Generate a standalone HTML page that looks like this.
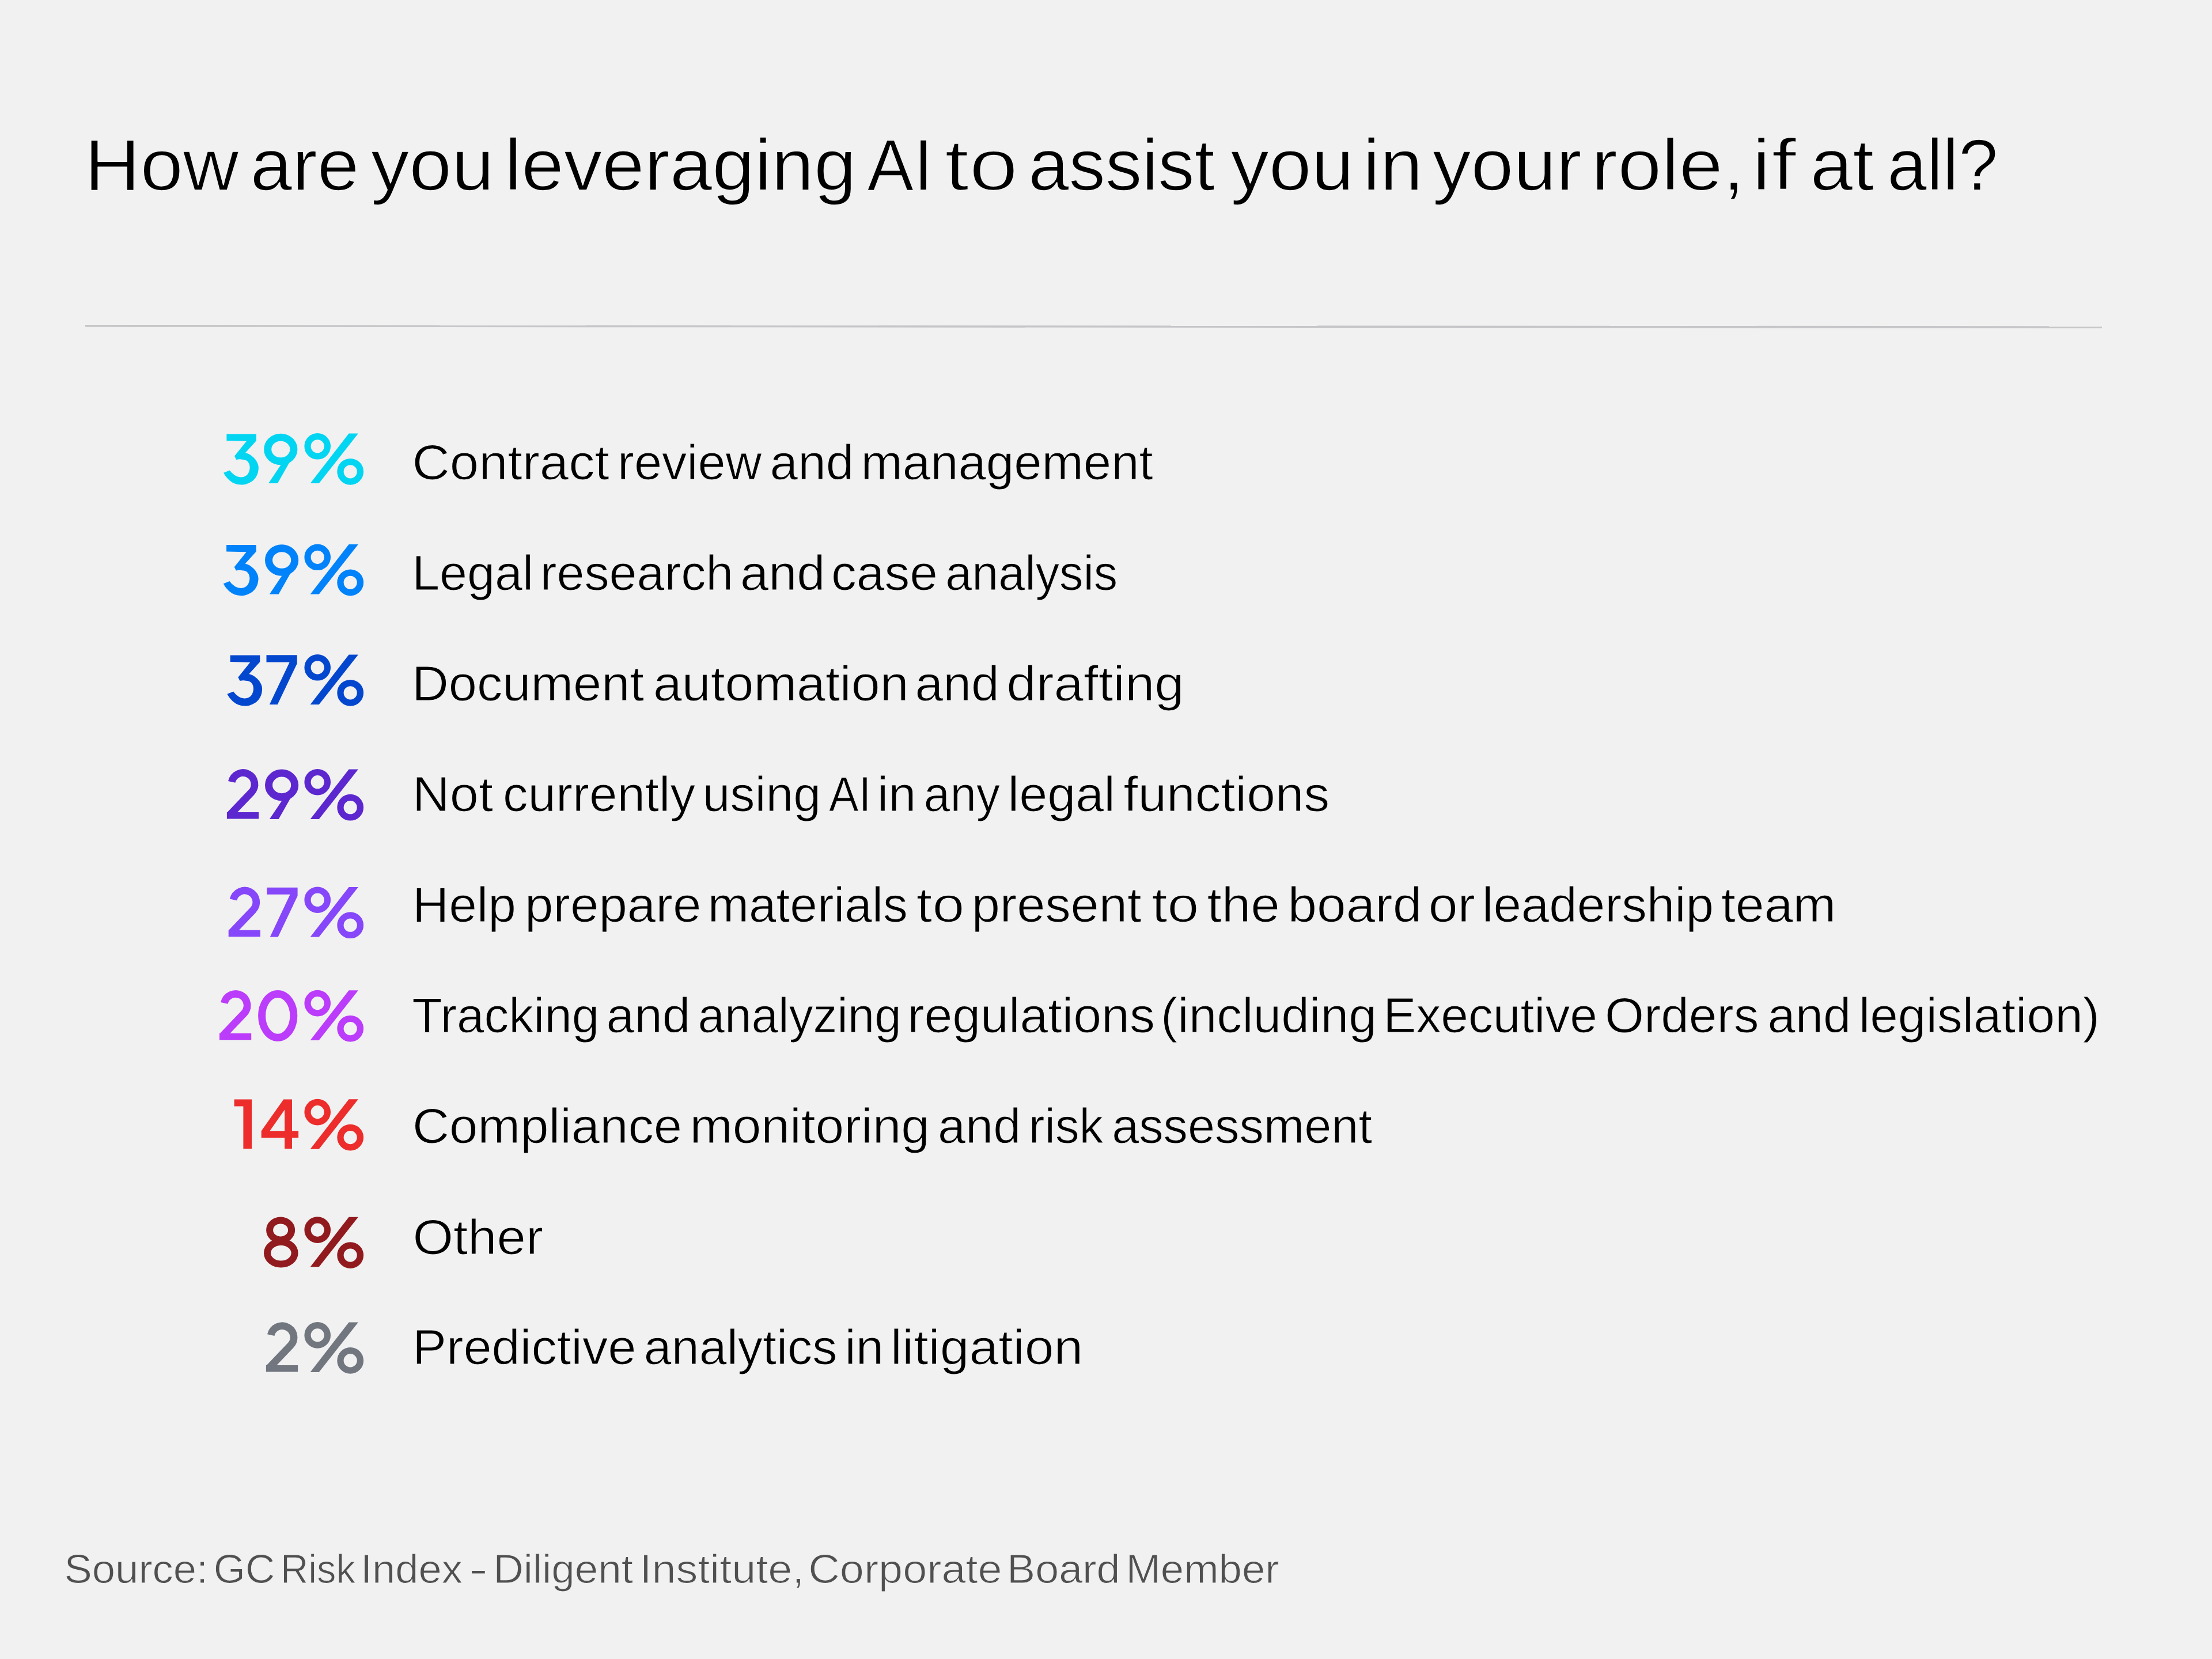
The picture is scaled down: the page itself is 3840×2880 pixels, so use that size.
<!DOCTYPE html>
<html><head><meta charset="utf-8">
<style>
html,body{margin:0;padding:0;background:#f1f1f1;}
body{width:3840px;height:2880px;overflow:hidden;position:relative;}
svg{position:absolute;left:0;top:0;display:block;}
text{font-family:"Liberation Sans",sans-serif;white-space:pre;}
</style></head><body>
<svg width="3840" height="2880" viewBox="0 0 3840 2880">
<rect width="3840" height="2880" fill="#f1f1f1"/>

<line x1="148" y1="565.8" x2="3649" y2="568" stroke="#c6c6c9" stroke-width="3.6"/>
<text x="146.76" y="330.00" font-size="131" fill="#000000" transform="matrix(1,0,0,0.97,0,9.900)" textLength="267.72" lengthAdjust="spacingAndGlyphs" stroke="#f1f1f1" stroke-width="1.72" stroke-linejoin="round">How</text>
<text x="434.62" y="330.00" font-size="131" fill="#000000" transform="matrix(1,0,0,0.97,0,9.900)" textLength="188.70" lengthAdjust="spacingAndGlyphs" stroke="#f1f1f1" stroke-width="1.6" stroke-linejoin="round">are</text>
<text x="643.99" y="330.00" font-size="131" fill="#000000" transform="matrix(1,0,0,0.97,0,9.900)" textLength="213.74" lengthAdjust="spacingAndGlyphs" stroke="#f1f1f1" stroke-width="1.67" stroke-linejoin="round">you</text>
<text x="875.91" y="330.00" font-size="131" fill="#000000" transform="matrix(1,0,0,0.97,0,9.900)" textLength="610.66" lengthAdjust="spacingAndGlyphs" stroke="#f1f1f1" stroke-width="1.66" stroke-linejoin="round">leveraging</text>
<text x="1505.58" y="330.00" font-size="131" fill="#000000" transform="matrix(1,0,0,0.97,0,9.900)" textLength="114.22" lengthAdjust="spacingAndGlyphs" stroke="#f1f1f1" stroke-width="1.6" stroke-linejoin="round">AI</text>
<text x="1639.66" y="330.00" font-size="131" fill="#000000" transform="matrix(1,0,0,0.97,0,9.900)" textLength="127.66" lengthAdjust="spacingAndGlyphs" stroke="#f1f1f1" stroke-width="2.58" stroke-linejoin="round">to</text>
<text x="1785.20" y="330.00" font-size="131" fill="#000000" transform="matrix(1,0,0,0.97,0,9.900)" textLength="323.59" lengthAdjust="spacingAndGlyphs" stroke="#f1f1f1" stroke-width="1.6" stroke-linejoin="round">assist</text>
<text x="2136.49" y="330.00" font-size="131" fill="#000000" transform="matrix(1,0,0,0.97,0,9.900)" textLength="213.85" lengthAdjust="spacingAndGlyphs" stroke="#f1f1f1" stroke-width="1.67" stroke-linejoin="round">you</text>
<text x="2365.79" y="330.00" font-size="131" fill="#000000" transform="matrix(1,0,0,0.97,0,9.900)" textLength="104.40" lengthAdjust="spacingAndGlyphs" stroke="#f1f1f1" stroke-width="1.74" stroke-linejoin="round">in</text>
<text x="2486.98" y="330.00" font-size="131" fill="#000000" transform="matrix(1,0,0,0.97,0,9.900)" textLength="258.91" lengthAdjust="spacingAndGlyphs" stroke="#f1f1f1" stroke-width="1.69" stroke-linejoin="round">your</text>
<text x="2762.60" y="330.00" font-size="131" fill="#000000" transform="matrix(1,0,0,0.97,0,9.900)" textLength="266.28" lengthAdjust="spacingAndGlyphs" stroke="#f1f1f1" stroke-width="1.86" stroke-linejoin="round">role,</text>
<text x="3040.23" y="330.00" font-size="131" fill="#000000" transform="matrix(1,0,0,0.97,0,9.900)" textLength="78.37" lengthAdjust="spacingAndGlyphs" stroke="#f1f1f1" stroke-width="2.74" stroke-linejoin="round">if</text>
<text x="3142.41" y="330.00" font-size="131" fill="#000000" transform="matrix(1,0,0,0.97,0,9.900)" textLength="110.87" lengthAdjust="spacingAndGlyphs" stroke="#f1f1f1" stroke-width="1.69" stroke-linejoin="round">at</text>
<text x="3276.34" y="330.00" font-size="131" fill="#000000" transform="matrix(1,0,0,0.97,0,9.900)" textLength="192.30" lengthAdjust="spacingAndGlyphs" stroke="#f1f1f1" stroke-width="1.6" stroke-linejoin="round">all?</text>
<text x="715.46" y="832.00" font-size="88" fill="#000000" transform="matrix(1,0,0,0.965,0,29.120)" textLength="342.14" lengthAdjust="spacingAndGlyphs" stroke="#f1f1f1" stroke-width="1.11" stroke-linejoin="round">Contract</text>
<text x="1072.10" y="832.00" font-size="88" fill="#000000" transform="matrix(1,0,0,0.965,0,29.120)" textLength="250.20" lengthAdjust="spacingAndGlyphs" stroke="#f1f1f1" stroke-width="1.0" stroke-linejoin="round">review</text>
<text x="1336.63" y="832.00" font-size="88" fill="#000000" transform="matrix(1,0,0,0.965,0,29.120)" textLength="145.76" lengthAdjust="spacingAndGlyphs" stroke="#f1f1f1" stroke-width="1.0" stroke-linejoin="round">and</text>
<text x="1494.48" y="832.00" font-size="88" fill="#000000" transform="matrix(1,0,0,0.965,0,29.120)" textLength="507.17" lengthAdjust="spacingAndGlyphs" stroke="#f1f1f1" stroke-width="1.0" stroke-linejoin="round">management</text>
<text x="715.14" y="1024.50" font-size="88" fill="#000000" transform="matrix(1,0,0,0.965,0,35.858)" textLength="211.06" lengthAdjust="spacingAndGlyphs" stroke="#f1f1f1" stroke-width="1.0" stroke-linejoin="round">Legal</text>
<text x="937.82" y="1024.50" font-size="88" fill="#000000" transform="matrix(1,0,0,0.965,0,35.858)" textLength="335.44" lengthAdjust="spacingAndGlyphs" stroke="#f1f1f1" stroke-width="1.0" stroke-linejoin="round">research</text>
<text x="1284.98" y="1024.50" font-size="88" fill="#000000" transform="matrix(1,0,0,0.965,0,35.858)" textLength="147.47" lengthAdjust="spacingAndGlyphs" stroke="#f1f1f1" stroke-width="1.02" stroke-linejoin="round">and</text>
<text x="1443.02" y="1024.50" font-size="88" fill="#000000" transform="matrix(1,0,0,0.965,0,35.858)" textLength="184.85" lengthAdjust="spacingAndGlyphs" stroke="#f1f1f1" stroke-width="1.0" stroke-linejoin="round">case</text>
<text x="1641.24" y="1024.50" font-size="88" fill="#000000" transform="matrix(1,0,0,0.965,0,35.858)" textLength="299.02" lengthAdjust="spacingAndGlyphs" stroke="#f1f1f1" stroke-width="1.0" stroke-linejoin="round">analysis</text>
<text x="714.96" y="1216.00" font-size="88" fill="#000000" transform="matrix(1,0,0,0.965,0,42.560)" textLength="403.12" lengthAdjust="spacingAndGlyphs" stroke="#f1f1f1" stroke-width="1.02" stroke-linejoin="round">Document</text>
<text x="1133.92" y="1216.00" font-size="88" fill="#000000" transform="matrix(1,0,0,0.965,0,42.560)" textLength="443.58" lengthAdjust="spacingAndGlyphs" stroke="#f1f1f1" stroke-width="1.07" stroke-linejoin="round">automation</text>
<text x="1588.51" y="1216.00" font-size="88" fill="#000000" transform="matrix(1,0,0,0.965,0,42.560)" textLength="146.29" lengthAdjust="spacingAndGlyphs" stroke="#f1f1f1" stroke-width="1.0" stroke-linejoin="round">and</text>
<text x="1747.19" y="1216.00" font-size="88" fill="#000000" transform="matrix(1,0,0,0.965,0,42.560)" textLength="308.67" lengthAdjust="spacingAndGlyphs" stroke="#f1f1f1" stroke-width="1.2" stroke-linejoin="round">drafting</text>
<text x="715.84" y="1408.50" font-size="88" fill="#000000" transform="matrix(1,0,0,0.965,0,49.298)" textLength="140.14" lengthAdjust="spacingAndGlyphs" stroke="#f1f1f1" stroke-width="1.09" stroke-linejoin="round">Not</text>
<text x="873.04" y="1408.50" font-size="88" fill="#000000" transform="matrix(1,0,0,0.965,0,49.298)" textLength="333.89" lengthAdjust="spacingAndGlyphs" stroke="#f1f1f1" stroke-width="1.0" stroke-linejoin="round">currently</text>
<text x="1219.85" y="1408.50" font-size="88" fill="#000000" transform="matrix(1,0,0,0.965,0,49.298)" textLength="205.06" lengthAdjust="spacingAndGlyphs" stroke="#f1f1f1" stroke-width="1.0" stroke-linejoin="round">using</text>
<text x="1439.12" y="1408.50" font-size="88" fill="#000000" transform="matrix(1,0,0,0.965,0,49.298)" textLength="73.04" lengthAdjust="spacingAndGlyphs" stroke="#f1f1f1" stroke-width="1.0" stroke-linejoin="round">AI</text>
<text x="1523.11" y="1408.50" font-size="88" fill="#000000" transform="matrix(1,0,0,0.965,0,49.298)" textLength="67.30" lengthAdjust="spacingAndGlyphs" stroke="#f1f1f1" stroke-width="1.0" stroke-linejoin="round">in</text>
<text x="1603.88" y="1408.50" font-size="88" fill="#000000" transform="matrix(1,0,0,0.965,0,49.298)" textLength="131.95" lengthAdjust="spacingAndGlyphs" stroke="#f1f1f1" stroke-width="1.0" stroke-linejoin="round">any</text>
<text x="1749.59" y="1408.50" font-size="88" fill="#000000" transform="matrix(1,0,0,0.965,0,49.298)" textLength="186.36" lengthAdjust="spacingAndGlyphs" stroke="#f1f1f1" stroke-width="1.01" stroke-linejoin="round">legal</text>
<text x="1950.58" y="1408.50" font-size="88" fill="#000000" transform="matrix(1,0,0,0.965,0,49.298)" textLength="357.68" lengthAdjust="spacingAndGlyphs" stroke="#f1f1f1" stroke-width="1.06" stroke-linejoin="round">functions</text>
<text x="716.04" y="1600.50" font-size="88" fill="#000000" transform="matrix(1,0,0,0.965,0,56.018)" textLength="179.92" lengthAdjust="spacingAndGlyphs" stroke="#f1f1f1" stroke-width="1.0" stroke-linejoin="round">Help</text>
<text x="910.94" y="1600.50" font-size="88" fill="#000000" transform="matrix(1,0,0,0.965,0,56.018)" textLength="306.43" lengthAdjust="spacingAndGlyphs" stroke="#f1f1f1" stroke-width="1.04" stroke-linejoin="round">prepare</text>
<text x="1228.77" y="1600.50" font-size="88" fill="#000000" transform="matrix(1,0,0,0.965,0,56.018)" textLength="346.93" lengthAdjust="spacingAndGlyphs" stroke="#f1f1f1" stroke-width="1.0" stroke-linejoin="round">materials</text>
<text x="1590.52" y="1600.50" font-size="88" fill="#000000" transform="matrix(1,0,0,0.965,0,56.018)" textLength="83.75" lengthAdjust="spacingAndGlyphs" stroke="#f1f1f1" stroke-width="1.55" stroke-linejoin="round">to</text>
<text x="1686.67" y="1600.50" font-size="88" fill="#000000" transform="matrix(1,0,0,0.965,0,56.018)" textLength="294.86" lengthAdjust="spacingAndGlyphs" stroke="#f1f1f1" stroke-width="1.02" stroke-linejoin="round">present</text>
<text x="1999.26" y="1600.50" font-size="88" fill="#000000" transform="matrix(1,0,0,0.965,0,56.018)" textLength="82.13" lengthAdjust="spacingAndGlyphs" stroke="#f1f1f1" stroke-width="1.46" stroke-linejoin="round">to</text>
<text x="2095.53" y="1600.50" font-size="88" fill="#000000" transform="matrix(1,0,0,0.965,0,56.018)" textLength="126.46" lengthAdjust="spacingAndGlyphs" stroke="#f1f1f1" stroke-width="1.13" stroke-linejoin="round">the</text>
<text x="2235.49" y="1600.50" font-size="88" fill="#000000" transform="matrix(1,0,0,0.965,0,56.018)" textLength="232.79" lengthAdjust="spacingAndGlyphs" stroke="#f1f1f1" stroke-width="1.13" stroke-linejoin="round">board</text>
<text x="2479.65" y="1600.50" font-size="88" fill="#000000" transform="matrix(1,0,0,0.965,0,56.018)" textLength="81.25" lengthAdjust="spacingAndGlyphs" stroke="#f1f1f1" stroke-width="1.15" stroke-linejoin="round">or</text>
<text x="2573.06" y="1600.50" font-size="88" fill="#000000" transform="matrix(1,0,0,0.965,0,56.018)" textLength="401.96" lengthAdjust="spacingAndGlyphs" stroke="#f1f1f1" stroke-width="1.0" stroke-linejoin="round">leadership</text>
<text x="2987.96" y="1600.50" font-size="88" fill="#000000" transform="matrix(1,0,0,0.965,0,56.018)" textLength="199.28" lengthAdjust="spacingAndGlyphs" stroke="#f1f1f1" stroke-width="1.07" stroke-linejoin="round">team</text>
<text x="715.35" y="1792.00" font-size="88" fill="#000000" transform="matrix(1,0,0,0.965,0,62.720)" textLength="325.05" lengthAdjust="spacingAndGlyphs" stroke="#f1f1f1" stroke-width="1.0" stroke-linejoin="round">Tracking</text>
<text x="1052.63" y="1792.00" font-size="88" fill="#000000" transform="matrix(1,0,0,0.965,0,62.720)" textLength="145.86" lengthAdjust="spacingAndGlyphs" stroke="#f1f1f1" stroke-width="1.0" stroke-linejoin="round">and</text>
<text x="1211.60" y="1792.00" font-size="88" fill="#000000" transform="matrix(1,0,0,0.965,0,62.720)" textLength="353.22" lengthAdjust="spacingAndGlyphs" stroke="#f1f1f1" stroke-width="1.0" stroke-linejoin="round">analyzing</text>
<text x="1575.21" y="1792.00" font-size="88" fill="#000000" transform="matrix(1,0,0,0.965,0,62.720)" textLength="429.60" lengthAdjust="spacingAndGlyphs" stroke="#f1f1f1" stroke-width="1.0" stroke-linejoin="round">regulations</text>
<text x="2015.03" y="1792.00" font-size="88" fill="#000000" transform="matrix(1,0,0,0.965,0,62.720)" textLength="374.92" lengthAdjust="spacingAndGlyphs" stroke="#f1f1f1" stroke-width="1.0" stroke-linejoin="round">(including</text>
<text x="2401.18" y="1792.00" font-size="88" fill="#000000" transform="matrix(1,0,0,0.965,0,62.720)" textLength="371.84" lengthAdjust="spacingAndGlyphs" stroke="#f1f1f1" stroke-width="1.0" stroke-linejoin="round">Executive</text>
<text x="2786.02" y="1792.00" font-size="88" fill="#000000" transform="matrix(1,0,0,0.965,0,62.720)" textLength="267.41" lengthAdjust="spacingAndGlyphs" stroke="#f1f1f1" stroke-width="1.0" stroke-linejoin="round">Orders</text>
<text x="3068.45" y="1792.00" font-size="88" fill="#000000" transform="matrix(1,0,0,0.965,0,62.720)" textLength="145.01" lengthAdjust="spacingAndGlyphs" stroke="#f1f1f1" stroke-width="1.0" stroke-linejoin="round">and</text>
<text x="3226.74" y="1792.00" font-size="88" fill="#000000" transform="matrix(1,0,0,0.965,0,62.720)" textLength="418.20" lengthAdjust="spacingAndGlyphs" stroke="#f1f1f1" stroke-width="1.0" stroke-linejoin="round">legislation)</text>
<text x="715.96" y="1984.00" font-size="88" fill="#000000" transform="matrix(1,0,0,0.965,0,69.440)" textLength="468.14" lengthAdjust="spacingAndGlyphs" stroke="#f1f1f1" stroke-width="1.03" stroke-linejoin="round">Compliance</text>
<text x="1197.42" y="1984.00" font-size="88" fill="#000000" transform="matrix(1,0,0,0.965,0,69.440)" textLength="416.54" lengthAdjust="spacingAndGlyphs" stroke="#f1f1f1" stroke-width="1.05" stroke-linejoin="round">monitoring</text>
<text x="1628.07" y="1984.00" font-size="88" fill="#000000" transform="matrix(1,0,0,0.965,0,69.440)" textLength="144.15" lengthAdjust="spacingAndGlyphs" stroke="#f1f1f1" stroke-width="1.0" stroke-linejoin="round">and</text>
<text x="1785.83" y="1984.00" font-size="88" fill="#000000" transform="matrix(1,0,0,0.965,0,69.440)" textLength="129.38" lengthAdjust="spacingAndGlyphs" stroke="#f1f1f1" stroke-width="1.0" stroke-linejoin="round">risk</text>
<text x="1930.15" y="1984.00" font-size="88" fill="#000000" transform="matrix(1,0,0,0.965,0,69.440)" textLength="451.86" lengthAdjust="spacingAndGlyphs" stroke="#f1f1f1" stroke-width="1.0" stroke-linejoin="round">assessment</text>
<text x="716.38" y="2176.50" font-size="88" fill="#000000" transform="matrix(1,0,0,0.965,0,76.178)" textLength="226.78" lengthAdjust="spacingAndGlyphs" stroke="#f1f1f1" stroke-width="1.12" stroke-linejoin="round">Other</text>
<text x="715.96" y="2367.50" font-size="88" fill="#000000" transform="matrix(1,0,0,0.965,0,82.863)" textLength="388.44" lengthAdjust="spacingAndGlyphs" stroke="#f1f1f1" stroke-width="1.02" stroke-linejoin="round">Predictive</text>
<text x="1117.78" y="2367.50" font-size="88" fill="#000000" transform="matrix(1,0,0,0.965,0,82.863)" textLength="335.53" lengthAdjust="spacingAndGlyphs" stroke="#f1f1f1" stroke-width="1.0" stroke-linejoin="round">analytics</text>
<text x="1466.59" y="2367.50" font-size="88" fill="#000000" transform="matrix(1,0,0,0.965,0,82.863)" textLength="67.42" lengthAdjust="spacingAndGlyphs" stroke="#f1f1f1" stroke-width="1.0" stroke-linejoin="round">in</text>
<text x="1545.79" y="2367.50" font-size="88" fill="#000000" transform="matrix(1,0,0,0.965,0,82.863)" textLength="334.30" lengthAdjust="spacingAndGlyphs" stroke="#f1f1f1" stroke-width="1.14" stroke-linejoin="round">litigation</text>
<text x="111.50" y="2748.50" font-size="72.5" fill="#505050" transform="matrix(1,0,0,0.97,0,82.455)" textLength="249.65" lengthAdjust="spacingAndGlyphs" stroke="#f1f1f1" stroke-width="1.0" stroke-linejoin="round">Source:</text>
<text x="370.68" y="2748.50" font-size="72.5" fill="#505050" transform="matrix(1,0,0,0.97,0,82.455)" textLength="106.49" lengthAdjust="spacingAndGlyphs" stroke="#f1f1f1" stroke-width="1.0" stroke-linejoin="round">GC</text>
<text x="487.08" y="2748.50" font-size="72.5" fill="#505050" transform="matrix(1,0,0,0.97,0,82.455)" textLength="129.71" lengthAdjust="spacingAndGlyphs" stroke="#f1f1f1" stroke-width="1.0" stroke-linejoin="round">Risk</text>
<text x="626.02" y="2748.50" font-size="72.5" fill="#505050" transform="matrix(1,0,0,0.97,0,82.455)" textLength="176.94" lengthAdjust="spacingAndGlyphs" stroke="#f1f1f1" stroke-width="1.0" stroke-linejoin="round">Index</text>
<text x="813.92" y="2748.50" font-size="72.5" fill="#505050" transform="matrix(1,0,0,0.97,0,82.455)" textLength="32.88" lengthAdjust="spacingAndGlyphs" stroke="#f1f1f1" stroke-width="1.0" stroke-linejoin="round">-</text>
<text x="856.17" y="2748.50" font-size="72.5" fill="#505050" transform="matrix(1,0,0,0.97,0,82.455)" textLength="242.83" lengthAdjust="spacingAndGlyphs" stroke="#f1f1f1" stroke-width="1.01" stroke-linejoin="round">Diligent</text>
<text x="1110.40" y="2748.50" font-size="72.5" fill="#505050" transform="matrix(1,0,0,0.97,0,82.455)" textLength="285.96" lengthAdjust="spacingAndGlyphs" stroke="#f1f1f1" stroke-width="1.14" stroke-linejoin="round">Institute,</text>
<text x="1403.23" y="2748.50" font-size="72.5" fill="#505050" transform="matrix(1,0,0,0.97,0,82.455)" textLength="336.33" lengthAdjust="spacingAndGlyphs" stroke="#f1f1f1" stroke-width="1.14" stroke-linejoin="round">Corporate</text>
<text x="1748.11" y="2748.50" font-size="72.5" fill="#505050" transform="matrix(1,0,0,0.97,0,82.455)" textLength="196.43" lengthAdjust="spacingAndGlyphs" stroke="#f1f1f1" stroke-width="1.05" stroke-linejoin="round">Board</text>
<text x="1954.40" y="2748.50" font-size="72.5" fill="#505050" transform="matrix(1,0,0,0.97,0,82.455)" textLength="266.11" lengthAdjust="spacingAndGlyphs" stroke="#f1f1f1" stroke-width="1.0" stroke-linejoin="round">Member</text>
<g transform="translate(388.00,752.50)"><path d="M5.4,0.9 L57,0.9 L57,12.6 L38,33.5 C39.27,34.02 42.95,34.92 45.60,36.60 C48.25,38.28 51.68,41.17 53.90,43.60 C56.12,46.03 57.75,48.67 58.90,51.20 C60.05,53.73 60.68,55.95 60.80,58.80 C60.92,61.65 60.43,65.35 59.60,68.30 C58.77,71.25 57.60,73.97 55.80,76.50 C54.00,79.03 51.55,81.60 48.80,83.50 C46.05,85.40 42.37,87.00 39.30,87.90 C36.23,88.80 33.57,89.00 30.40,88.90 C27.23,88.80 23.45,88.42 20.30,87.30 C17.15,86.18 14.13,84.22 11.50,82.20 C8.87,80.18 6.41,77.52 4.50,75.20 C2.59,72.88 0.80,69.45 0.06,68.30 L10.8,63.9 C11.65,64.83 14.00,67.82 15.90,69.50 C17.80,71.18 19.78,72.93 22.20,74.00 C24.62,75.07 27.77,75.90 30.40,75.90 C33.03,75.90 35.88,75.17 38.00,74.00 C40.12,72.83 41.83,71.12 43.10,68.90 C44.37,66.68 45.38,63.43 45.60,60.70 C45.82,57.97 45.45,54.82 44.40,52.50 C43.35,50.18 41.63,48.07 39.30,46.80 C36.97,45.53 33.25,45.12 30.40,44.90 C27.55,44.68 23.57,45.40 22.20,45.50 L19.05,39.2 L40,13.2 L5.4,12.6 Z" fill="#02d5f2"/></g>
<g transform="translate(457.90,752.50)"><ellipse cx="29.4" cy="27.5" rx="22.6" ry="20.8" fill="none" stroke="#02d5f2" stroke-width="13"/><path d="M58.30,26.00 L24.00,86.50 L8.20,86.50 L36.00,45.00 Z" fill="#02d5f2"/></g>
<circle cx="551.20" cy="774.80" r="17.2" fill="none" stroke="#02d5f2" stroke-width="11.2"/>
<circle cx="608.20" cy="818.80" r="17.25" fill="none" stroke="#02d5f2" stroke-width="11.3"/>
<polygon points="605.60,752.50 621.90,752.50 553.80,839.00 538.70,839.00" fill="#02d5f2"/>
<g transform="translate(387.70,945.00)"><path d="M5.4,0.9 L57,0.9 L57,12.6 L38,33.5 C39.27,34.02 42.95,34.92 45.60,36.60 C48.25,38.28 51.68,41.17 53.90,43.60 C56.12,46.03 57.75,48.67 58.90,51.20 C60.05,53.73 60.68,55.95 60.80,58.80 C60.92,61.65 60.43,65.35 59.60,68.30 C58.77,71.25 57.60,73.97 55.80,76.50 C54.00,79.03 51.55,81.60 48.80,83.50 C46.05,85.40 42.37,87.00 39.30,87.90 C36.23,88.80 33.57,89.00 30.40,88.90 C27.23,88.80 23.45,88.42 20.30,87.30 C17.15,86.18 14.13,84.22 11.50,82.20 C8.87,80.18 6.41,77.52 4.50,75.20 C2.59,72.88 0.80,69.45 0.06,68.30 L10.8,63.9 C11.65,64.83 14.00,67.82 15.90,69.50 C17.80,71.18 19.78,72.93 22.20,74.00 C24.62,75.07 27.77,75.90 30.40,75.90 C33.03,75.90 35.88,75.17 38.00,74.00 C40.12,72.83 41.83,71.12 43.10,68.90 C44.37,66.68 45.38,63.43 45.60,60.70 C45.82,57.97 45.45,54.82 44.40,52.50 C43.35,50.18 41.63,48.07 39.30,46.80 C36.97,45.53 33.25,45.12 30.40,44.90 C27.55,44.68 23.57,45.40 22.20,45.50 L19.05,39.2 L40,13.2 L5.4,12.6 Z" fill="#0083fa"/></g>
<g transform="translate(459.70,945.00)"><ellipse cx="29.4" cy="27.5" rx="22.6" ry="20.8" fill="none" stroke="#0083fa" stroke-width="13"/><path d="M58.30,26.00 L24.00,86.50 L8.20,86.50 L36.00,45.00 Z" fill="#0083fa"/></g>
<circle cx="551.20" cy="967.30" r="17.2" fill="none" stroke="#0083fa" stroke-width="11.2"/>
<circle cx="608.20" cy="1011.30" r="17.25" fill="none" stroke="#0083fa" stroke-width="11.3"/>
<polygon points="605.60,945.00 621.90,945.00 553.80,1031.50 538.70,1031.50" fill="#0083fa"/>
<g transform="translate(394.30,1136.50)"><path d="M5.4,0.9 L57,0.9 L57,12.6 L38,33.5 C39.27,34.02 42.95,34.92 45.60,36.60 C48.25,38.28 51.68,41.17 53.90,43.60 C56.12,46.03 57.75,48.67 58.90,51.20 C60.05,53.73 60.68,55.95 60.80,58.80 C60.92,61.65 60.43,65.35 59.60,68.30 C58.77,71.25 57.60,73.97 55.80,76.50 C54.00,79.03 51.55,81.60 48.80,83.50 C46.05,85.40 42.37,87.00 39.30,87.90 C36.23,88.80 33.57,89.00 30.40,88.90 C27.23,88.80 23.45,88.42 20.30,87.30 C17.15,86.18 14.13,84.22 11.50,82.20 C8.87,80.18 6.41,77.52 4.50,75.20 C2.59,72.88 0.80,69.45 0.06,68.30 L10.8,63.9 C11.65,64.83 14.00,67.82 15.90,69.50 C17.80,71.18 19.78,72.93 22.20,74.00 C24.62,75.07 27.77,75.90 30.40,75.90 C33.03,75.90 35.88,75.17 38.00,74.00 C40.12,72.83 41.83,71.12 43.10,68.90 C44.37,66.68 45.38,63.43 45.60,60.70 C45.82,57.97 45.45,54.82 44.40,52.50 C43.35,50.18 41.63,48.07 39.30,46.80 C36.97,45.53 33.25,45.12 30.40,44.90 C27.55,44.68 23.57,45.40 22.20,45.50 L19.05,39.2 L40,13.2 L5.4,12.6 Z" fill="#0447cf"/></g>
<g transform="translate(462.50,1136.50)"><path d="M0.00,0.80 L53.20,0.80 L53.20,15.40 L19.30,86.50 L5.40,86.50 L40.20,12.90 L0.00,12.90 Z" fill="#0447cf"/></g>
<circle cx="551.20" cy="1158.80" r="17.2" fill="none" stroke="#0447cf" stroke-width="11.2"/>
<circle cx="608.20" cy="1202.80" r="17.25" fill="none" stroke="#0447cf" stroke-width="11.3"/>
<polygon points="605.60,1136.50 621.90,1136.50 553.80,1223.00 538.70,1223.00" fill="#0447cf"/>
<g transform="translate(392.20,1335.40)"><path d="M10.04,22.02 A20.1,20.1 0 1 1 44.23,40.09 L7.5,78.5" fill="none" stroke="#5d27cf" stroke-width="12.7" stroke-linejoin="round"/><path d="M1.70,74.50 L56.90,74.50 L56.90,86.00 L1.70,86.00 Z" fill="#5d27cf"/></g>
<g transform="translate(459.70,1335.40)"><ellipse cx="29.4" cy="27.5" rx="22.6" ry="20.8" fill="none" stroke="#5d27cf" stroke-width="13"/><path d="M58.30,26.00 L24.00,86.50 L8.20,86.50 L36.00,45.00 Z" fill="#5d27cf"/></g>
<circle cx="551.20" cy="1357.70" r="17.2" fill="none" stroke="#5d27cf" stroke-width="11.2"/>
<circle cx="608.20" cy="1401.70" r="17.25" fill="none" stroke="#5d27cf" stroke-width="11.3"/>
<polygon points="605.60,1335.40 621.90,1335.40 553.80,1421.90 538.70,1421.90" fill="#5d27cf"/>
<g transform="translate(395.00,1539.90)"><path d="M10.04,22.02 A20.1,20.1 0 1 1 44.23,40.09 L7.5,78.5" fill="none" stroke="#8646fa" stroke-width="12.7" stroke-linejoin="round"/><path d="M1.70,74.50 L56.90,74.50 L56.90,86.00 L1.70,86.00 Z" fill="#8646fa"/></g>
<g transform="translate(463.40,1539.90)"><path d="M0.00,0.80 L53.20,0.80 L53.20,15.40 L19.30,86.50 L5.40,86.50 L40.20,12.90 L0.00,12.90 Z" fill="#8646fa"/></g>
<circle cx="551.20" cy="1562.20" r="17.2" fill="none" stroke="#8646fa" stroke-width="11.2"/>
<circle cx="608.20" cy="1606.20" r="17.25" fill="none" stroke="#8646fa" stroke-width="11.3"/>
<polygon points="605.60,1539.90 621.90,1539.90 553.80,1626.40 538.70,1626.40" fill="#8646fa"/>
<g transform="translate(379.30,1719.30)"><path d="M10.04,22.02 A20.1,20.1 0 1 1 44.23,40.09 L7.5,78.5" fill="none" stroke="#bb3cfa" stroke-width="12.7" stroke-linejoin="round"/><path d="M1.70,74.50 L56.90,74.50 L56.90,86.00 L1.70,86.00 Z" fill="#bb3cfa"/></g>
<g transform="translate(447.80,1719.30)"><ellipse cx="34.4" cy="44" rx="27.6" ry="37.9" fill="none" stroke="#bb3cfa" stroke-width="13"/></g>
<circle cx="551.20" cy="1741.60" r="17.2" fill="none" stroke="#bb3cfa" stroke-width="11.2"/>
<circle cx="608.20" cy="1785.60" r="17.25" fill="none" stroke="#bb3cfa" stroke-width="11.3"/>
<polygon points="605.60,1719.30 621.90,1719.30 553.80,1805.80 538.70,1805.80" fill="#bb3cfa"/>
<g transform="translate(406.60,1908.30)"><path d="M0.00,0.30 L30.40,0.30 L30.40,86.00 L15.80,86.00 L15.80,12.20 L0.00,12.20 Z" fill="#ec2d2b"/></g>
<g transform="translate(453.70,1908.30)"><path d="M38.60,0.30 L53.25,0.30 L53.25,55.00 L64.40,55.00 L64.40,66.60 L53.25,66.60 L53.25,86.00 L40.40,86.00 L40.40,66.60 L0.00,66.60 L0.00,55.00 Z M14.70,55.00 L40.40,55.00 L40.40,18.10 Z" fill="#ec2d2b" fill-rule="evenodd"/></g>
<circle cx="551.20" cy="1930.60" r="17.2" fill="none" stroke="#ec2d2b" stroke-width="11.2"/>
<circle cx="608.20" cy="1974.60" r="17.25" fill="none" stroke="#ec2d2b" stroke-width="11.3"/>
<polygon points="605.60,1908.30 621.90,1908.30 553.80,1994.80 538.70,1994.80" fill="#ec2d2b"/>
<g transform="translate(457.80,2112.80)"><ellipse cx="29.3" cy="22.6" rx="19" ry="17" fill="none" stroke="#911a1e" stroke-width="12"/><ellipse cx="30" cy="62.5" rx="23.8" ry="19.3" fill="none" stroke="#911a1e" stroke-width="12"/></g>
<circle cx="551.20" cy="2135.10" r="17.2" fill="none" stroke="#911a1e" stroke-width="11.2"/>
<circle cx="608.20" cy="2179.10" r="17.25" fill="none" stroke="#911a1e" stroke-width="11.3"/>
<polygon points="605.60,2112.80 621.90,2112.80 553.80,2199.30 538.70,2199.30" fill="#911a1e"/>
<g transform="translate(460.20,2295.60)"><path d="M10.04,22.02 A20.1,20.1 0 1 1 44.23,40.09 L7.5,78.5" fill="none" stroke="#71767f" stroke-width="12.7" stroke-linejoin="round"/><path d="M1.70,74.50 L56.90,74.50 L56.90,86.00 L1.70,86.00 Z" fill="#71767f"/></g>
<circle cx="551.20" cy="2317.90" r="17.2" fill="none" stroke="#71767f" stroke-width="11.2"/>
<circle cx="608.20" cy="2361.90" r="17.25" fill="none" stroke="#71767f" stroke-width="11.3"/>
<polygon points="605.60,2295.60 621.90,2295.60 553.80,2382.10 538.70,2382.10" fill="#71767f"/>
</svg>
</body></html>
